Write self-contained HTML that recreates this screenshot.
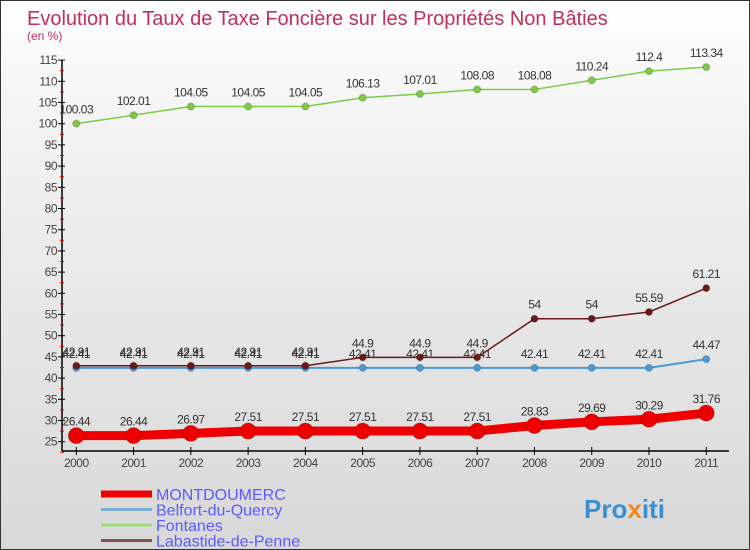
<!DOCTYPE html>
<html><head><meta charset="utf-8"><style>
body{margin:0;}
#c{width:750px;height:550px;position:relative;overflow:hidden;box-sizing:border-box;border:1px solid #333;background:linear-gradient(#fefefe,#f0f0f0 30%,#d8d8d8 100%);font-family:"Liberation Sans",sans-serif;}
</style></head><body>
<div id="c">
<svg id="s" width="750" height="550" style="position:absolute;left:0;top:0">
<text x="26" y="24" font-size="20" fill="#c0305a" font-family="Liberation Sans, sans-serif">Evolution du Taux de Taxe Foncière sur les Propriétés Non Bâties</text>
<text x="26" y="39" font-size="12" fill="#c0305a">(en %)</text>
<g id="axes"></g><g id="series"></g><g id="legend"></g>
<text x="583" y="517" font-size="26" font-weight="bold" fill="#3a8fd0">Pro<tspan fill="#f08a1c">x</tspan>iti</text>
</svg>
</div>
<script>
const years=["2000","2001","2002","2003","2004","2005","2006","2007","2008","2009","2010","2011"];
const yTicks=[25,30,35,40,45,50,55,60,65,70,75,80,85,90,95,100,105,110,115];
const montdoumerc=[26.44,26.44,26.97,27.51,27.51,27.51,27.51,27.51,28.83,29.69,30.29,31.76];
const belfort=[42.41,42.41,42.41,42.41,42.41,42.41,42.41,42.41,42.41,42.41,42.41,44.47];
const fontanes=[100.03,102.01,104.05,104.05,104.05,106.13,107.01,108.08,108.08,110.24,112.4,113.34];
const labastide=[42.91,42.91,42.91,42.91,42.91,44.9,44.9,44.9,54,54,55.59,61.21];
const NS="http://www.w3.org/2000/svg";
const X=i=>75.3+i*57.27;
const Y=v=>440.7-(v-25)*4.24;
function mk(t,a,p){const e=document.createElementNS(NS,t);for(const k in a)e.setAttribute(k,a[k]);p.appendChild(e);return e;}
const ax=document.getElementById('axes');
let l=mk('line',{x1:61,y1:Y(115),x2:61,y2:450,stroke:'#000','stroke-width':1.5},ax);


l=mk('line',{x1:61,y1:450,x2:728,y2:450,stroke:'#000','stroke-width':1.5},ax);


yTicks.forEach(v=>{
 const y=Y(v);
 mk('line',{x1:57,y1:y,x2:64,y2:y,stroke:'#000'},ax);
 mk('line',{x1:59,y1:y+10.6,x2:63,y2:y+10.6,stroke:'#e00'},ax);
 const t=mk('text',{x:56,y:y+4,'font-size':12,'letter-spacing':-0.5,'text-anchor':'end',fill:'#444'},ax);
 t.textContent=v;
 
 
});
years.forEach((yr,i)=>{
 mk('line',{x1:X(i),y1:446,x2:X(i),y2:454,stroke:'#000'},ax);
 const t=mk('text',{x:X(i),y:466,'font-size':12,'letter-spacing':-0.5,'text-anchor':'middle',fill:'#444'},ax);
 t.textContent=yr;
 
 
});
const sg=document.getElementById('series');
function series(vals,color,w,r,name){
 const g=mk('g',{},sg);
 
 
 mk('polyline',{points:vals.map((v,i)=>X(i)+','+Y(v)).join(' '),fill:'none',stroke:color,'stroke-width':w},g);
 vals.forEach((v,i)=>{
  const c=mk('circle',{cx:X(i),cy:Y(v),r:r,fill:color,stroke:'#0003'},g);
  
  
  const t=mk('text',{x:X(i),y:Y(v)-10,'font-size':12,'letter-spacing':-0.5,'text-anchor':'middle',fill:'#333'},g);
  t.textContent=v;
  
  
 });
}
series(belfort,'#4a9ad6',2,3.5,'belfort');
series(labastide,'#6a1a1a',1.5,3.5,'labastide');
series(fontanes,'#7ccc44',1.5,3.5,'fontanes');
series(montdoumerc,'#ee0000',9,8,'montdoumerc');
const lg=document.getElementById('legend');
const leg=[['MONTDOUMERC','#ee0000',7],['Belfort-du-Quercy','#7aaed6',3],['Fontanes','#99dd77',3],['Labastide-de-Penne','#8a5050',3]];
leg.forEach((d,i)=>{
 const y=493+i*15.5;
 const g=mk('g',{},lg);
 
 
 mk('line',{x1:100,y1:y,x2:151,y2:y,stroke:d[1],'stroke-width':d[2]},g);
 const t=mk('text',{x:155,y:y+6,'font-size':16,fill:'#5b5bff'},g);
 t.textContent=d[0];
});
</script>
</body></html>
